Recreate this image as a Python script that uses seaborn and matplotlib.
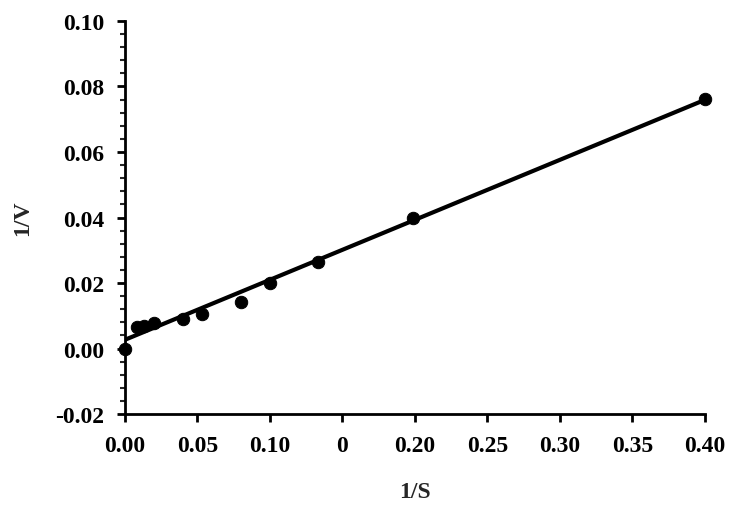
import numpy as np
import pandas as pd
import matplotlib
matplotlib.use("Agg")
import matplotlib.pyplot as plt
from matplotlib.ticker import MultipleLocator
import seaborn as sns

# values
inv_s = [0.000, 0.0083, 0.0131, 0.020, 0.040, 0.053, 0.080, 0.100, 0.133, 0.199, 0.400]
inv_v = [0.0000, 0.0067, 0.0070, 0.0079, 0.0091, 0.0107, 0.0143, 0.0201, 0.0265, 0.0399, 0.0762]
fit_x = [0.0, 0.40]
fit_y = [0.0027, 0.0759]

x_ticks = [0.00, 0.05, 0.10, 0.15, 0.20, 0.25, 0.30, 0.35, 0.40]
x_tick_labels = ["0.00", "0.05", "0.10", "0", "0.20", "0.25", "0.30", "0.35", "0.40"]
y_ticks = [-0.02, 0.00, 0.02, 0.04, 0.06, 0.08, 0.10]

sns.set_style("ticks")
plt.rcParams['font.family'] = ['Liberation Serif', 'DejaVu Serif']
plt.rcParams['font.weight'] = 'bold'

df = pd.DataFrame({"1/S": inv_s, "1/V": inv_v})
fit = pd.DataFrame({"x": fit_x, "y": fit_y})

fig = plt.figure(figsize=(7.38, 5.10), dpi=100)
ax = fig.add_axes([0.1694, 0.186, 0.7856, 0.771])

sns.lineplot(data=fit, x="x", y="y", color="black", linewidth=3, ax=ax)
sns.scatterplot(data=df, x="1/S", y="1/V", color="black", s=80, edgecolor="black",
                ax=ax, clip_on=False, zorder=5)

ax.set_xlim(0, 0.40)
ax.set_ylim(-0.02, 0.10)
ax.set_xticks(x_ticks)
ax.set_xticklabels(x_tick_labels)
ax.set_yticks(y_ticks)
ax.set_yticklabels([f"{v:.2f}" for v in y_ticks])
ax.yaxis.set_minor_locator(MultipleLocator(0.004))

for side in ["top", "right"]:
    ax.spines[side].set_visible(False)
for side in ["left", "bottom"]:
    ax.spines[side].set_linewidth(2)
    ax.spines[side].set_color("black")

ax.tick_params(axis="both", which="major", direction="out", length=6, width=2,
               labelsize=17, colors="black", pad=9)
ax.tick_params(axis="y", which="minor", direction="out", length=3.5, width=1.5)
for lbl in ax.get_xticklabels() + ax.get_yticklabels():
    lbl.set_fontweight("bold")

ax.set_xlabel("1/S", fontsize=17, fontweight="bold", labelpad=18)
ax.set_ylabel("1/V", fontsize=17, fontweight="bold", labelpad=16)

fig.savefig("out.png", dpi=100)
